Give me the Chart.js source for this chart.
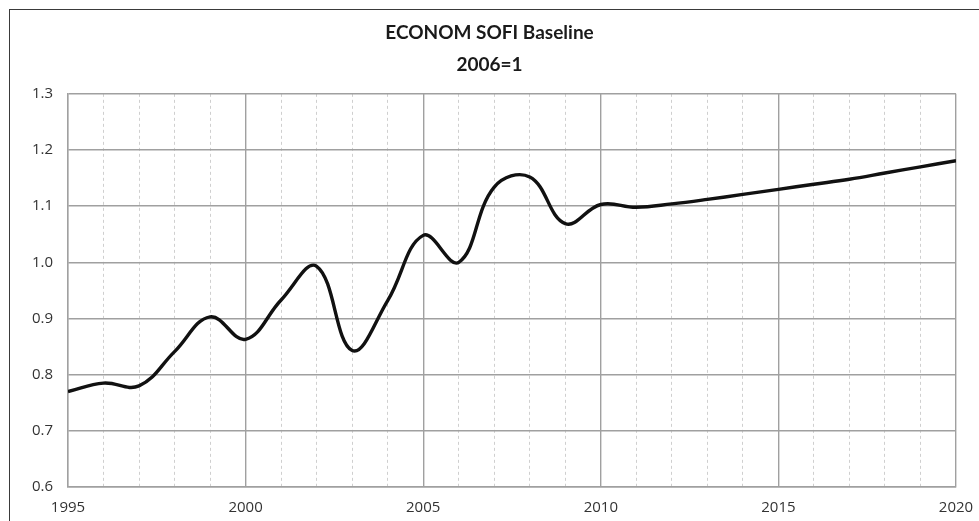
<!DOCTYPE html>
<html>
<head>
<meta charset="utf-8">
<script src="https://cdn.jsdelivr.net/npm/chart.js@4"></script>
<style>
  html, body { margin: 0; padding: 0; overflow: hidden; background: #fff; }
  #frame { position: absolute; left: 9px; top: 9px; width: 1100px; height: 700px; border: 1.5px solid #3a3a3a; }
  #wrap { position: absolute; left: 0; top: 0; width: 979px; height: 521px; }
</style>
</head>
<body>
<div id="frame"></div>
<div id="wrap"><canvas id="sofiChart"></canvas></div>
<script>
const years = [1995, 1996, 1997, 1998, 1999, 2000, 2001, 2002, 2003, 2004, 2005, 2006, 2007,
               2008, 2009, 2010, 2011, 2012, 2013, 2014, 2015, 2016, 2017, 2018, 2019, 2020];
const sofiBaseline = [0.770, 0.785, 0.780, 0.841, 0.903, 0.863, 0.933, 0.993, 0.843, 0.932, 1.048, 1.000, 1.134,
                      1.152, 1.069, 1.103, 1.098, 1.104, 1.112, 1.121, 1.130, 1.139, 1.148, 1.159, 1.170, 1.181];
const titleLines = ['ECONOM SOFI Baseline', '2006=1'];

const tickFont = { family: "'Open Sans', sans-serif", size: 15 };

const ctx = document.getElementById('sofiChart').getContext('2d');
const sofiChart = new Chart(ctx, {
    type: 'line',
    data: {
        datasets: [{
            label: 'SOFI',
            data: years.map((y, i) => ({ x: y, y: sofiBaseline[i] })),
            borderColor: '#111',
            borderWidth: 3.4,
            pointRadius: 0,
            tension: 0.4,
            fill: false
        }]
    },
    options: {
        responsive: true,
        maintainAspectRatio: false,
        animation: false,
        layout: { padding: 0 },
        plugins: {
            legend: { display: false },
            tooltip: { enabled: false },
            title: {
                display: true,
                text: titleLines,
                color: '#1a1a1a',
                font: { family: 'Lato', size: 19, weight: 'bold', lineHeight: 1.68 },
                padding: { top: 17, bottom: 13 }
            }
        },
        scales: {
            x: {
                type: 'linear',
                min: 1995,
                max: 2020,
                afterFit: (s) => { s.height = 34; },
                ticks: {
                    stepSize: 1,
                    autoSkip: false,
                    maxRotation: 0,
                    padding: 0,
                    color: '#333',
                    font: tickFont,
                    callback: (v) => (v % 5 === 0 ? String(v) : '')
                },
                grid: {
                    drawTicks: true,
                    tickLength: 12,
                    tickColor: 'rgba(0,0,0,0)',
                    color: (c) => (c.tick && c.tick.value % 5 !== 0 ? '#cfcfcf' : '#a0a0a0'),
                    lineWidth: (c) => (c.tick && c.tick.value % 5 !== 0 ? 1 : 1.4)
                },
                border: {
                    color: '#a0a0a0',
                    width: 1.4,
                    dash: (c) => (c.tick && c.tick.value % 5 !== 0 ? [3, 3] : [])
                }
            },
            y: {
                min: 0.6,
                max: 1.3,
                afterFit: (s) => { s.width = 68; },
                ticks: {
                    stepSize: 0.1,
                    padding: 15,
                    color: '#333',
                    font: tickFont,
                    callback: (v) => Number(v).toFixed(1)
                },
                grid: {
                    drawTicks: false,
                    color: '#a0a0a0',
                    lineWidth: 1.4
                },
                border: { color: '#a0a0a0', width: 1.4 }
            },
            // empty spacer on the right so the plot ends where the reference does
            pad: {
                position: 'right',
                display: true,
                afterFit: (s) => { s.width = 23; },
                ticks: { display: false },
                grid: { display: false, drawOnChartArea: false },
                border: { display: false }
            }
        }
    }
});
</script>
</body>
</html>
